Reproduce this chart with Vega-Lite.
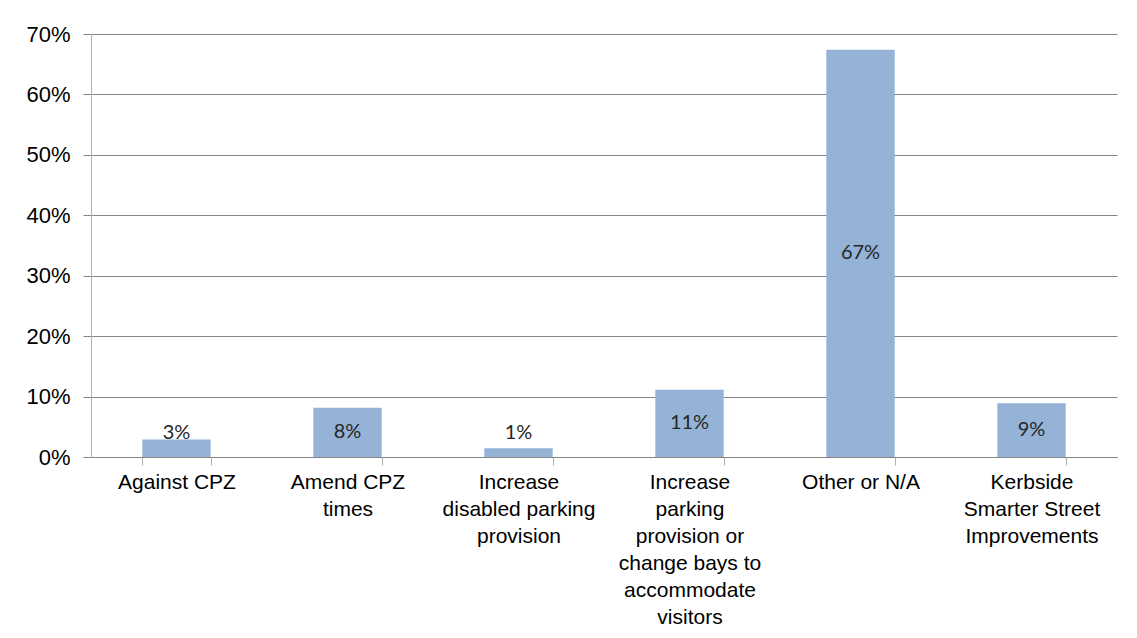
{
  "$schema": "https://vega.github.io/schema/vega-lite/v6.json",
  "autosize": "none",
  "padding": {"left": 91, "top": 34, "right": 20, "bottom": 181},
  "width": 1026,
  "height": 423,
  "background": "white",
  "data": {
    "values": [
      {"category": "Against CPZ", "value": 0.029, "label": "3%"},
      {"category": "Amend CPZ times", "value": 0.0815, "label": "8%"},
      {"category": "Increase disabled parking provision", "value": 0.0144, "label": "1%"},
      {"category": "Increase parking provision or change bays to accommodate visitors", "value": 0.1114, "label": "11%"},
      {"category": "Other or N/A", "value": 0.674, "label": "67%"},
      {"category": "Kerbside Smarter Street Improvements", "value": 0.0889, "label": "9%"}
    ]
  },
  "encoding": {
    "x": {
      "field": "category",
      "type": "nominal",
      "sort": null,
      "scale": {"paddingInner": 0.6, "paddingOuter": 0.3},
      "axis": {
        "title": null,
        "labelAngle": 0,
        "labelFont": "Liberation Sans",
        "labelFontSize": 21,
        "labelColor": "#000000",
        "labelLineHeight": 27,
        "labelBaseline": "top",
        "labelPadding": 6,
        "tickBand": "extent",
        "tickSize": 8,
        "tickColor": "#b0b0b0",
        "domainColor": "#868686",
        "labelLimit": 0,
        "labelExpr": "datum.value == 'Amend CPZ times' ? ['Amend CPZ', 'times'] : datum.value == 'Increase disabled parking provision' ? ['Increase', 'disabled parking', 'provision'] : datum.value == 'Increase parking provision or change bays to accommodate visitors' ? ['Increase', 'parking', 'provision or', 'change bays to', 'accommodate', 'visitors'] : datum.value == 'Kerbside Smarter Street Improvements' ? ['Kerbside', 'Smarter Street', 'Improvements'] : datum.value"
      }
    }
  },
  "layer": [
    {
      "mark": {"type": "bar", "color": "#95b3d7"},
      "encoding": {
        "y": {
          "field": "value",
          "type": "quantitative",
          "scale": {"domain": [0, 0.7], "nice": false},
          "axis": {
            "title": null,
            "format": ".0%",
            "values": [0, 0.1, 0.2, 0.3, 0.4, 0.5, 0.6, 0.7],
            "labelFont": "Liberation Sans",
            "labelFontSize": 22,
            "labelColor": "#000000",
            "labelPadding": 13,
            "tickSize": 8,
            "tickColor": "#868686",
            "domainColor": "#b0b0b0",
            "grid": true,
            "gridColor": "#868686",
            "gridWidth": 1
          }
        }
      }
    },
    {
      "transform": [{"calculate": "max(datum.value / 2, 0.04)", "as": "labelPos"}],
      "mark": {"type": "text", "font": "Lato", "fontSize": 20, "color": "#262626", "baseline": "middle"},
      "encoding": {
        "y": {"field": "labelPos", "type": "quantitative"},
        "text": {"field": "label"}
      }
    }
  ],
  "config": {"view": {"stroke": null}}
}
